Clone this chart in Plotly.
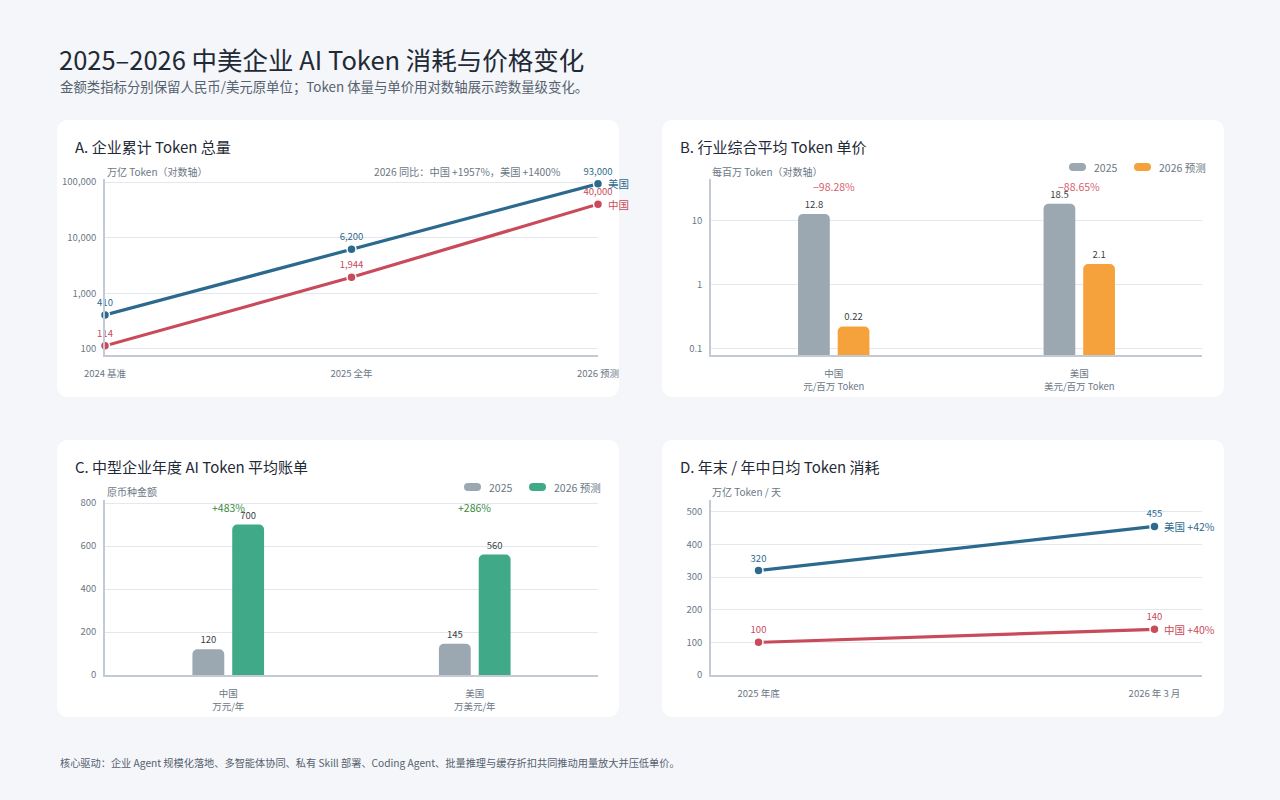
import math
import plotly.graph_objects as go

W, H = 1280, 800

# ---------------- data ----------------
a_periods = ["2024 基准", "2025 全年", "2026 预测"]
a_china = [114, 1944, 40000]
a_us = [410, 6200, 93000]
a_note = "2026 同比：中国 +1957%，美国 +1400%"
a_yticks = [100, 1000, 10000, 100000]

b_regions = ["中国<br>元/百万 Token", "美国<br>美元/百万 Token"]
b_2025 = [12.8, 18.5]
b_2026 = [0.22, 2.1]
b_yticks = [0.1, 1, 10]

c_regions = ["中国<br>万元/年", "美国<br>万美元/年"]
c_2025 = [120, 145]
c_2026 = [700, 560]
c_yticks = [0, 200, 400, 600, 800]

d_periods = ["2025 年底", "2026 年 3 月"]
d_china = [100, 140]
d_us = [320, 455]
d_yticks = [0, 100, 200, 300, 400, 500]

series_names = ["2025", "2026 预测"]
country_names = ["中国", "美国"]

# ---------------- style ----------------
FONT = "Noto Sans CJK SC, Noto Sans, sans-serif"
BG = "#f4f6f9"
DARK = "#1f2a37"
MUTED = "#6b7785"
SUB = "#56616f"
BLUE = "#2b6a8e"
RED = "#c94a5b"
GRAY = "#9ba8b2"
ORANGE = "#f5a13c"
GREEN = "#40a987"
PCT_RED = "#d65f6e"
PCT_GREEN = "#3a8c3f"
AXIS = "#c3cad3"
GRID = "#e4e8ee"


def px(x):
    return x / W


def py(y):
    return 1 - y / H


def rounded_path(x0, y0, x1, y1, r):
    rx, ry = r / W, r / H
    X0, X1 = px(x0), px(x1)
    Y0, Y1 = py(y0), py(y1)  # Y0 top (higher), Y1 bottom
    return (f"M {X0+rx},{Y0} L {X1-rx},{Y0} Q {X1},{Y0} {X1},{Y0-ry} "
            f"L {X1},{Y1+ry} Q {X1},{Y1} {X1-rx},{Y1} L {X0+rx},{Y1} "
            f"Q {X0},{Y1} {X0},{Y1+ry} L {X0},{Y0-ry} Q {X0},{Y0} {X0+rx},{Y0} Z")


fig = go.Figure()

# ---------- Panel A ----------
for vals, color in [(a_us, BLUE), (a_china, RED)]:
    fig.add_trace(go.Scatter(
        x=a_periods, y=vals, mode="lines+markers+text",
        text=[f"{v:,}" for v in vals], textposition="top center",
        textfont=dict(size=9.5, color=color, family=FONT),
        line=dict(color=color, width=3.2),
        marker=dict(size=9, color=color, line=dict(color="white", width=1.5)),
        cliponaxis=False, xaxis="x", yaxis="y", hoverinfo="skip"))

# ---------- Panel B ----------
for vals, color, name in [(b_2025, GRAY, series_names[0]), (b_2026, ORANGE, series_names[1])]:
    fig.add_trace(go.Bar(
        x=b_regions, y=vals, name=name, marker=dict(color=color, line=dict(width=0)),
        text=[f"{v:g}" for v in vals], textposition="outside",
        textfont=dict(size=9.5, color="#3a3f45", family=FONT),
        cliponaxis=False, xaxis="x2", yaxis="y2", hoverinfo="skip"))

# ---------- Panel C ----------
for vals, color, name in [(c_2025, GRAY, series_names[0]), (c_2026, GREEN, series_names[1])]:
    fig.add_trace(go.Bar(
        x=c_regions, y=vals, name=name, marker=dict(color=color, line=dict(width=0)),
        text=[f"{v:g}" for v in vals], textposition="outside",
        textfont=dict(size=9.5, color="#3a3f45", family=FONT),
        cliponaxis=False, xaxis="x3", yaxis="y3", hoverinfo="skip"))

# ---------- Panel D ----------
for vals, color in [(d_us, BLUE), (d_china, RED)]:
    fig.add_trace(go.Scatter(
        x=d_periods, y=vals, mode="lines+markers+text",
        text=[f"{v:g}" for v in vals], textposition="top center",
        textfont=dict(size=9.5, color=color, family=FONT),
        line=dict(color=color, width=3.2),
        marker=dict(size=9, color=color, line=dict(color="white", width=1.5)),
        cliponaxis=False, xaxis="x4", yaxis="y4", hoverinfo="skip"))


def xax(domain, **kw):
    d = dict(domain=domain, showline=True, linecolor=AXIS, linewidth=1.5,
             showgrid=False, zeroline=False, ticks="outside", ticklen=9,
             tickcolor="rgba(0,0,0,0)", tickfont=dict(size=9.5, color=MUTED, family=FONT),
             fixedrange=True, automargin=False)
    d.update(kw)
    return d


def yax(domain, **kw):
    d = dict(domain=domain, showline=True, linecolor=AXIS, linewidth=1.5,
             showgrid=True, gridcolor=GRID, gridwidth=1, zeroline=False,
             ticks="outside", ticklen=5, tickcolor="rgba(0,0,0,0)",
             tickfont=dict(size=9.5, color=MUTED, family=FONT), fixedrange=True,
             automargin=False)
    d.update(kw)
    return d


top_dom = [py(355), py(179)]
bot_dom = [py(675), py(500)]

layout = dict(
    width=W, height=H, autosize=False, margin=dict(l=0, r=0, t=0, b=0, pad=0),
    paper_bgcolor=BG, plot_bgcolor="rgba(0,0,0,0)",
    showlegend=False, barmode="group", bargap=0.677, bargroupgap=0.2,
    barcornerradius=5,
    font=dict(family=FONT, color=DARK),
    xaxis=xax([px(105), px(598)], type="category", range=[0, 2], anchor="y"),
    yaxis=yax(top_dom, type="log", range=[1.892, 5.054], tickvals=a_yticks,
              ticktext=[f"{v:,}" for v in a_yticks], anchor="x"),
    xaxis2=xax([px(711), px(1202)], type="category", anchor="y2"),
    yaxis2=yax(top_dom, type="log", range=[-1.105, 1.654], tickvals=b_yticks,
               ticktext=[f"{v:g}" for v in b_yticks], anchor="x2"),
    xaxis3=xax([px(105), px(598)], type="category", anchor="y3"),
    yaxis3=yax(bot_dom, range=[0, 814], tickvals=c_yticks, anchor="x3"),
    xaxis4=xax([px(711), px(1202)], type="category", range=[-0.12, 1.12], anchor="y4"),
    yaxis4=yax(bot_dom, range=[0, 536], tickvals=d_yticks, anchor="x4"),
)

shapes = []
for (x0, y0, x1, y1) in [(57, 120, 619, 397), (662, 120, 1224, 397),
                         (57, 440, 619, 717), (662, 440, 1224, 717)]:
    shapes.append(dict(type="path", path=rounded_path(x0, y0, x1, y1, 12),
                       xref="paper", yref="paper", fillcolor="white",
                       line=dict(width=0), layer="below"))

annotations = []


def ann(x, y, text, size=10, color=MUTED, xanchor="left", **kw):
    d = dict(x=px(x), y=py(y), xref="paper", yref="paper", text=text,
             showarrow=False, xanchor=xanchor, yanchor="middle",
             font=dict(size=size, color=color, family=FONT))
    d.update(kw)
    annotations.append(d)


# titles
ann(57, 59, "2025–2026 中美企业 AI Token 消耗与价格变化", size=25.5, color=DARK)
ann(58, 86, "金额类指标分别保留人民币/美元原单位；Token 体量与单价用对数轴展示跨数量级变化。", size=13.4, color=SUB)
ann(73, 146, "A. 企业累计 Token 总量", size=15, color=DARK)
ann(678, 146, "B. 行业综合平均 Token 单价", size=15, color=DARK)
ann(73, 466, "C. 中型企业年度 AI Token 平均账单", size=15, color=DARK)
ann(678, 466, "D. 年末 / 年中日均 Token 消耗", size=15, color=DARK)
ann(58, 762, "核心驱动：企业 Agent 规模化落地、多智能体协同、私有 Skill 部署、Coding Agent、批量推理与缓存折扣共同推动用量放大并压低单价。", size=10.2, color=SUB)

# axis titles
ann(105, 171, "万亿 Token（对数轴）", size=10)
ann(562, 171, a_note, size=10.2, xanchor="right")
ann(710, 171, "每百万 Token（对数轴）", size=10)
ann(105, 491, "原币种金额", size=10)
ann(710, 491, "万亿 Token / 天", size=10)

# end labels panel A
for vals, color, name in [(a_us, BLUE, country_names[1]), (a_china, RED, country_names[0])]:
    annotations.append(dict(x=a_periods[-1], y=math.log10(vals[-1]), xref="x", yref="y",
                            text=name, showarrow=False, xanchor="left", yanchor="middle",
                            xshift=8, font=dict(size=10.5, color=color, family=FONT)))

# end labels panel D
for vals, color, name in [(d_us, BLUE, country_names[1]), (d_china, RED, country_names[0])]:
    pct = (vals[-1] / vals[0] - 1) * 100
    annotations.append(dict(x=d_periods[-1], y=vals[-1], xref="x4", yref="y4",
                            text=f"{name} +{pct:.0f}%", showarrow=False, xanchor="left",
                            yanchor="middle", xshift=8,
                            font=dict(size=10.5, color=color, family=FONT)))

# percent change labels B
for i, cat in enumerate(b_regions):
    pct = (b_2026[i] / b_2025[i] - 1) * 100
    annotations.append(dict(x=cat, y=0.955, xref="x2", yref="y2 domain",
                            text=f"−{abs(pct):.2f}%", showarrow=False, yanchor="middle",
                            font=dict(size=10.5, color=PCT_RED, family=FONT)))

# percent change labels C
for i, cat in enumerate(c_regions):
    pct = (c_2026[i] / c_2025[i] - 1) * 100
    annotations.append(dict(x=cat, y=0.96, xref="x3", yref="y3 domain",
                            text=f"+{pct:.0f}%", showarrow=False, yanchor="middle",
                            font=dict(size=10.5, color=PCT_GREEN, family=FONT)))


# custom legends with pill swatches
def pill(x0, x1, yc, h, color):
    r = h / 2
    shapes.append(dict(type="path", path=rounded_path(x0, yc - r, x1, yc + r, r),
                       xref="paper", yref="paper", fillcolor=color, line=dict(width=0)))


pill(1069, 1086, 167, 8, GRAY)
ann(1092, 167, series_names[0], size=10.5)
pill(1134, 1151, 167, 8, ORANGE)
ann(1157, 167, series_names[1], size=10.5)

pill(464, 481, 487, 8, GRAY)
ann(487, 487, series_names[0], size=10.5)
pill(529, 546, 487, 8, GREEN)
ann(552, 487, series_names[1], size=10.5)

layout["shapes"] = shapes
layout["annotations"] = annotations
fig.update_layout(**layout)

fig.write_html("out.html", config={"displayModeBar": False})
